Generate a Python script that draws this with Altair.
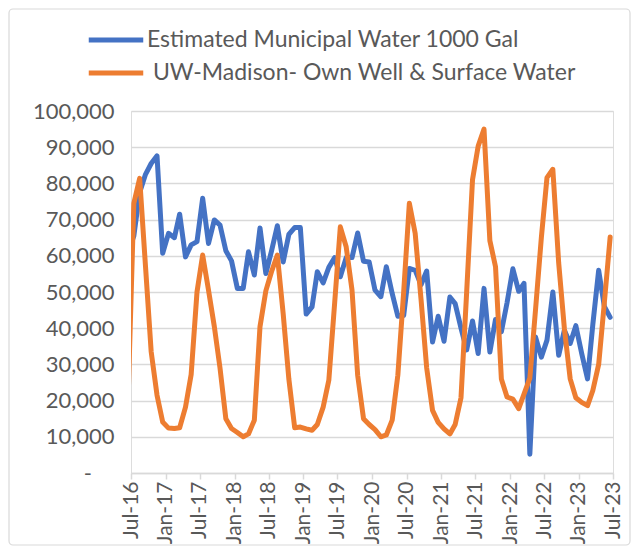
import altair as alt
import pandas as pd

SERIES = ["Estimated Municipal Water 1000 Gal", "UW-Madison- Own Well & Surface Water"]
COLORS = ["#4472C4", "#ED7D31"]

# monthly values, Jun-2016 ... Jun-2023 (plotted mid-month, axis starts Jul-2016)
municipal = [
    61000, 65500, 77500, 82500, 85500, 87600, 60700, 66200, 65000, 71500,
    59700, 63000, 63900, 75900, 63400, 69900, 68500, 61400, 58600, 51000,
    51000, 61100, 54700, 67700, 55100, 61300, 68300, 58300, 65900, 67800,
    67800, 43900, 45900, 55600, 52500, 56800, 59500, 54200, 59500, 59500,
    66300, 58500, 58300, 50500, 48700, 57000, 49600, 43300, 43500, 56500,
    56000, 52000, 55800, 36200, 43300, 36400, 48600, 46800, 40000, 34000,
    42000, 33000, 51000, 33400, 42400, 39000, 47000, 56400, 50200, 52400,
    5200, 37600, 32000, 36700, 50000, 32500, 39400, 35800, 40700, 33000,
    26000, 41000, 56000, 46000, 43000,
]
uw_own = [
    21000, 74500, 81400, 57000, 33500, 21500, 14100, 12400, 12300, 12500,
    18200, 27200, 50000, 60200, 50500, 40400, 29000, 15000, 12300, 11200,
    10000, 10800, 14600, 40400, 50300, 55600, 60200, 44000, 26000, 12500,
    12700, 12200, 11800, 13400, 18200, 25600, 47000, 68000, 62500, 50500,
    27000, 15000, 13400, 12000, 10000, 10500, 14600, 27000, 50000, 74500,
    66200, 48000, 29000, 17300, 14000, 12200, 10800, 13400, 20800, 50000,
    81000, 90300, 95000, 64200, 57000, 26000, 21000, 20400, 17800, 21800,
    26200, 45000, 65000, 81600, 83900, 58000, 40000, 26000, 20800, 19500,
    18600, 22800, 30000, 47000, 65200,
]
month_starts = pd.date_range("2016-06-01", periods=len(municipal), freq="MS")
dates = [(m + pd.Timedelta(days=15)).strftime("%Y-%m-%d") for m in month_starts]

y_ticks = list(range(0, 100001, 10000))
x_ticks = pd.date_range("2016-07-01", "2023-07-01", freq="6MS")


def ms(ts):
    return int(pd.Timestamp(ts).tz_localize("UTC").timestamp() * 1000)


x_tick_ms = [ms(t) for t in x_ticks]
x_domain = [ms("2016-07-01"), ms("2023-07-01")]

df = pd.DataFrame(
    {
        "date": dates * 2,
        "series": [SERIES[0]] * len(municipal) + [SERIES[1]] * len(uw_own),
        "value": municipal + uw_own,
    }
)

FONT = "Lato"
TXT = "#595959"
GRID = "#D9D9D9"
W, H = 482, 362

x_enc = alt.X(
    "date:T",
    title=None,
    scale=alt.Scale(type="utc", domain=x_domain),
    axis=alt.Axis(
        values=x_tick_ms,
        labelExpr="utcFormat(datum.value, '%b-%y')",
        labelAngle=-90,
        grid=False,
        domainColor=GRID,
        domainWidth=1.5,
        tickColor=GRID,
        tickWidth=1.5,
        tickSize=6,
        labelPadding=2,
        labelFont=FONT,
        labelFontSize=21,
        labelColor=TXT,
        labelOverlap=False,
        labelFlush=False,
    ),
)
y_enc = alt.Y(
    "value:Q",
    title=None,
    scale=alt.Scale(domain=[0, 100000], nice=False),
    axis=alt.Axis(
        values=y_ticks,
        labelExpr="datum.value == 0 ? '-\u00a0\u00a0\u00a0\u00a0\u200b' : format(datum.value, ',')",
        grid=True,
        gridColor=GRID,
        gridWidth=1.5,
        domain=False,
        ticks=False,
        tickSize=0,
        labelPadding=17,
        labelFont=FONT,
        labelFontSize=22,
        labelColor=TXT,
    ),
)
color_enc = alt.Color(
    "series:N",
    scale=alt.Scale(domain=SERIES, range=COLORS),
    legend=alt.Legend(
        title=None,
        orient="none",
        legendX=-27,
        legendY=-83,
        direction="vertical",
        symbolType="M-3,0L3,0",
        symbolSize=330,
        symbolStrokeWidth=5,
        labelFont=FONT,
        labelFontSize=23,
        labelColor=TXT,
        labelLimit=1000,
        labelOffset=19,
        rowPadding=9,
        labelExpr="indexof(datum.label, 'UW') == 0 ? '\u200b\u00a0' + datum.label : datum.label",
    ),
)

frame = (
    alt.Chart(pd.DataFrame({"frame": [0]}))
    .mark_rect(filled=False, stroke=GRID, strokeWidth=1.2, cornerRadius=4)
    .encode(
        x=alt.value(-122),
        x2=alt.value(W + 17),
        y=alt.value(-102),
        y2=alt.value(H + 72),
    )
)

layers = [
    alt.Chart(df)
    .transform_filter(alt.datum.series == s)
    .mark_line(strokeWidth=5, clip=True, strokeCap="round", strokeJoin="round")
    .encode(x=x_enc, y=y_enc, color=color_enc)
    for s in SERIES
]

chart = (
    alt.layer(frame, *layers)
    .properties(
        width=W,
        height=H,
        autosize=alt.AutoSizeParams(type="none"),
        padding={"left": 123, "top": 103, "right": 18, "bottom": 73},
    )
    .configure_view(stroke=None)
    .configure(background="white")
)

chart.save("out.html", embed_options={"renderer": "svg", "actions": False})
